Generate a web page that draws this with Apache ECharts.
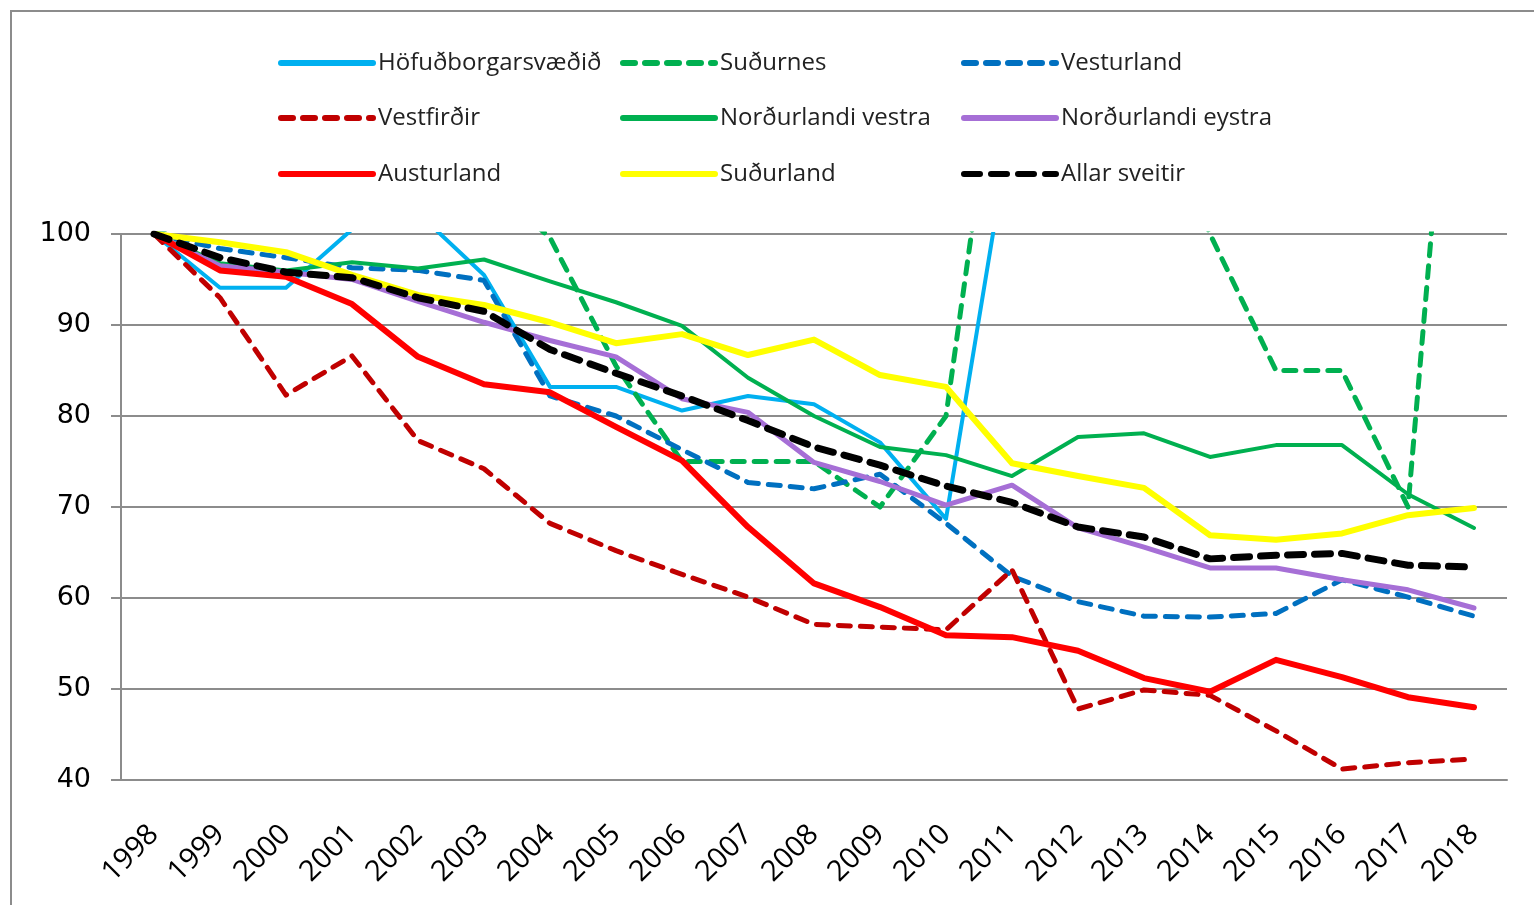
<!DOCTYPE html>
<html style="height: 100%">
<head>
    <meta charset="utf-8">
    <script src="https://cdn.jsdelivr.net/npm/echarts@6/dist/echarts.min.js"></script>
</head>
<body style="height:100%;margin:0;background:#fff">
    <div id="main" style="width:1534px;height:905px;"></div>
    <script type="text/javascript">

        // ár
        var years = ['1998','1999','2000','2001','2002','2003','2004','2005','2006','2007',
                     '2008','2009','2010','2011','2012','2013','2014','2015','2016','2017','2018'];

        // vísitala, 1998 = 100 (gildi yfir 100 sjást ekki á myndinni, áætluð)
        var hofudborgarsvaedid = [100, 94.1, 94.1, 100.5, 102.3, 95.5, 83.2, 83.2, 80.6, 82.2, 81.3, 77.1, 68.7, 112.7, 116, 118, 120, 123, 126, 128, 131];
        var sudurnes = [100, 103, 106, 108, 109, 106, 99.6, 85.5, 75, 75, 75, 70, 80, 132, 128, 118, 100, 85, 85, 70, 155];
        var vesturland = [100, 98.4, 97.4, 96.3, 96.0, 94.9, 82.2, 80.0, 76.3, 72.7, 72.0, 73.6, 68.2, 62.4, 59.6, 58.0, 57.9, 58.3, 62.0, 60.1, 58.0];
        var vestfirdir = [100, 93, 82.3, 86.6, 77.3, 74.2, 68.2, 65.2, 62.6, 60.1, 57.1, 56.8, 56.5, 63.1, 47.8, 49.9, 49.3, 45.4, 41.2, 41.9, 42.3];
        var nordurlandiVestra = [100, 96.8, 96.0, 96.9, 96.2, 97.2, 94.8, 92.5, 89.9, 84.2, 80.0, 76.6, 75.7, 73.4, 77.7, 78.1, 75.5, 76.8, 76.8, 71.4, 67.7];
        var nordurlandiEystra = [100, 96.5, 95.8, 95.0, 92.6, 90.3, 88.3, 86.5, 81.9, 80.4, 74.9, 72.8, 70.2, 72.4, 67.7, 65.6, 63.3, 63.3, 62.0, 60.9, 58.9];
        var austurland = [100, 96.0, 95.3, 92.3, 86.5, 83.5, 82.6, 78.8, 75.1, 67.8, 61.6, 59.0, 55.9, 55.7, 54.2, 51.2, 49.7, 53.2, 51.3, 49.1, 48.0];
        var sudurland = [100, 99.1, 98.0, 95.5, 93.3, 92.2, 90.3, 88.0, 89.0, 86.7, 88.4, 84.5, 83.2, 74.8, 73.4, 72.1, 66.9, 66.4, 67.1, 69.1, 69.9];
        var allarSveitir = [100, 97.4, 95.8, 95.2, 93.0, 91.5, 87.3, 84.7, 82.2, 79.5, 76.6, 74.6, 72.3, 70.5, 67.8, 66.7, 64.3, 64.7, 64.9, 63.6, 63.4];

        var seriesDefs = [
            { name: 'Höfuðborgarsvæðið', data: hofudborgarsvaedid, color: '#00B0F0', width: 4, type: 'solid' },
            { name: 'Suðurnes', data: sudurnes, color: '#00B050', width: 5, type: [12, 10] },
            { name: 'Vesturland', data: vesturland, color: '#0070C0', width: 5, type: [12, 10] },
            { name: 'Vestfirðir', data: vestfirdir, color: '#C00000', width: 5, type: [12, 10] },
            { name: 'Norðurlandi vestra', data: nordurlandiVestra, color: '#00B050', width: 4, type: 'solid' },
            { name: 'Norðurlandi eystra', data: nordurlandiEystra, color: '#A66FD6', width: 5, type: 'solid' },
            { name: 'Austurland', data: austurland, color: '#FF0000', width: 6, type: 'solid' },
            { name: 'Suðurland', data: sudurland, color: '#FFFF00', width: 6, type: 'solid' },
            { name: 'Allar sveitir', data: allarSveitir, color: '#000000', width: 7, type: [16, 11] }
        ];

        // staðsetning skýringa: 3 dálkar x 3 raðir
        var legendCols = [278, 620, 961];
        var legendRows = [61, 116, 172];

        var legends = seriesDefs.map(function (s, i) {
            return {
                data: [s.name],
                left: legendCols[i % 3],
                top: legendRows[Math.floor(i / 3)] - 10,
                padding: 0,
                itemWidth: 92,
                itemHeight: 24,
                selectedMode: false,
                itemStyle: { opacity: 0 },
                lineStyle: { width: 6, type: 'inherit', cap: 'round' },
                textStyle: { fontFamily: 'Open Sans', fontSize: 24, color: '#222' }
            };
        });

        var series = seriesDefs.map(function (s) {
            return {
                name: s.name,
                type: 'line',
                data: s.data,
                symbol: 'none',
                clip: true,
                color: s.color,
                lineStyle: { color: s.color, width: s.width, type: s.type, cap: 'round', join: 'round' },
                emphasis: { disabled: true }
            };
        });

        var myChart = echarts.init(document.getElementById('main'));
        var option = {
            animation: false,
            backgroundColor: '#fff',
            graphic: [{
                type: 'rect',
                shape: { x: 11, y: 11, width: 1600, height: 1000 },
                style: { fill: 'none', stroke: '#8c8c8c', lineWidth: 2 },
                silent: true
            }],
            legend: legends,
            grid: { left: 121, right: 27, top: 234, bottom: 125 },
            xAxis: {
                type: 'category',
                data: years,
                boundaryGap: true,
                axisLine: { lineStyle: { color: '#8c8c8c', width: 2 } },
                axisTick: { length: 10, lineStyle: { color: '#8c8c8c', width: 2 } },
                axisLabel: {
                    rotate: 45,
                    margin: 50,
                    interval: 0,
                    fontFamily: 'Open Sans',
                    fontSize: 29,
                    color: '#000'
                }
            },
            yAxis: {
                type: 'value',
                min: 40,
                max: 100,
                interval: 10,
                axisLine: { show: true, lineStyle: { color: '#8c8c8c', width: 2 } },
                axisTick: { show: true, length: 10, lineStyle: { color: '#8c8c8c', width: 2 } },
                splitLine: { lineStyle: { color: '#8c8c8c', width: 2 } },
                axisLabel: {
                    margin: 30,
                    fontFamily: 'DejaVu Sans',
                    fontSize: 27,
                    color: '#000'
                }
            },
            series: series
        };
        myChart.setOption(option);
    </script>
</body>
</html>
